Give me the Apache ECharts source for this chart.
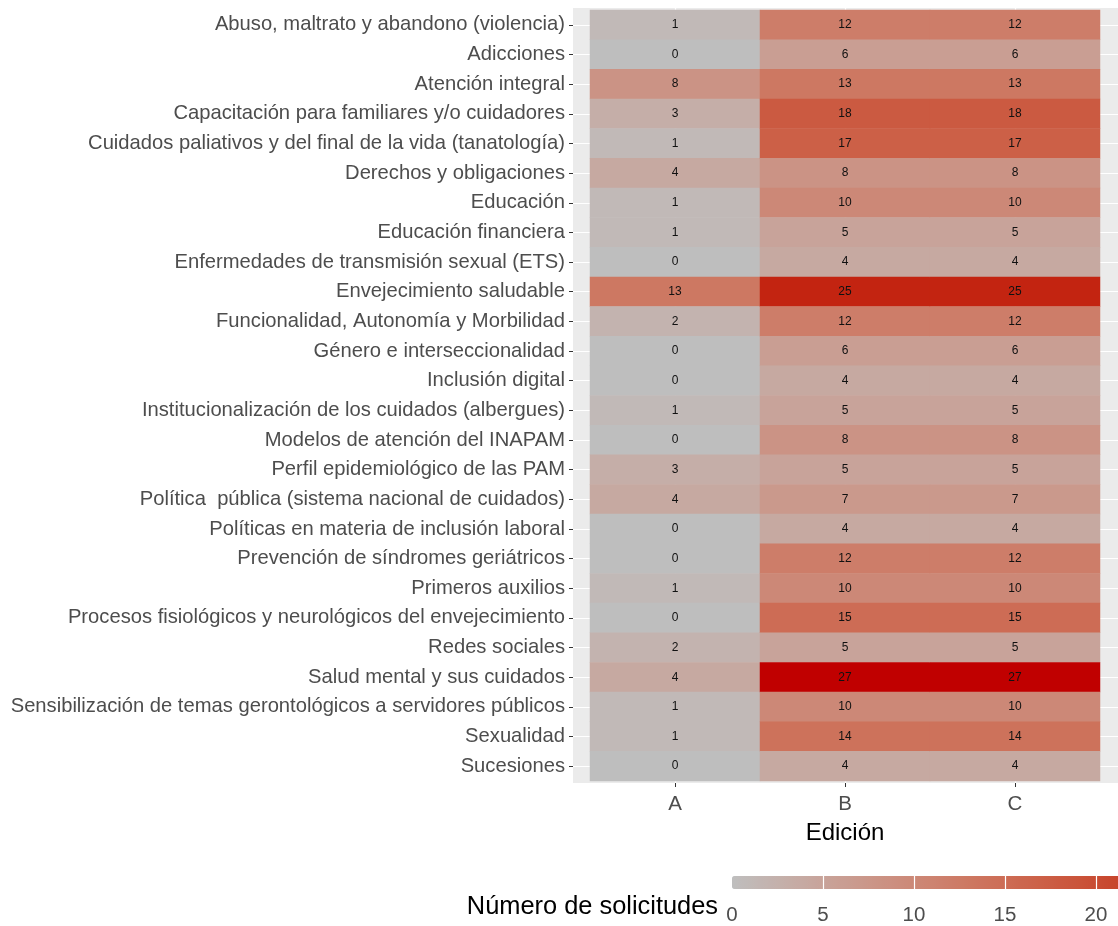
<!DOCTYPE html>
<html>
<head>
<meta charset="utf-8">
<script src="https://cdn.jsdelivr.net/npm/echarts@6/dist/echarts.min.js"></script>
<style>html,body{margin:0;padding:0;background:#fff;}#c{width:1118px;height:926px;}</style>
</head>
<body>
<div id="c"></div>
<script>
const categories = [
  "Abuso, maltrato y abandono (violencia)",
  "Adicciones",
  "Atención integral",
  "Capacitación para familiares y/o cuidadores",
  "Cuidados paliativos y del final de la vida (tanatología)",
  "Derechos y obligaciones",
  "Educación",
  "Educación financiera",
  "Enfermedades de transmisión sexual (ETS)",
  "Envejecimiento saludable",
  "Funcionalidad, Autonomía y Morbilidad",
  "Género e interseccionalidad",
  "Inclusión digital",
  "Institucionalización de los cuidados (albergues)",
  "Modelos de atención del INAPAM",
  "Perfil epidemiológico de las PAM",
  "Política  pública (sistema nacional de cuidados)",
  "Políticas en materia de inclusión laboral",
  "Prevención de síndromes geriátricos",
  "Primeros auxilios",
  "Procesos fisiológicos y neurológicos del envejecimiento",
  "Redes sociales",
  "Salud mental y sus cuidados",
  "Sensibilización de temas gerontológicos a servidores públicos",
  "Sexualidad",
  "Sucesiones"
];
const editions = ["A", "B", "C"];
const valuesA = [1,0,8,3,1,4,1,1,0,13,2,0,0,1,0,3,4,0,0,1,0,2,4,1,1,0];
const valuesB = [12,6,13,18,17,8,10,5,4,25,12,6,4,5,8,5,7,4,12,10,15,5,27,10,14,4];
const valuesC = [12,6,13,18,17,8,10,5,4,25,12,6,4,5,8,5,7,4,12,10,15,5,27,10,14,4];
const legendTicks = [0, 5, 10, 15, 20];
const scaleMax = 27;

// ---- colour scale: Lab interpolation between low and high (like ggplot) ----
function srgbToLin(c){c/=255;return c<=0.04045?c/12.92:Math.pow((c+0.055)/1.055,2.4);}
function linToSrgb(c){c=c<=0.0031308?12.92*c:1.055*Math.pow(c,1/2.4)-0.055;return Math.max(0,Math.min(255,Math.round(c*255)));}
function hexToLab(h){
  const r=srgbToLin(parseInt(h.substr(1,2),16)),g=srgbToLin(parseInt(h.substr(3,2),16)),b=srgbToLin(parseInt(h.substr(5,2),16));
  let X=(0.4124*r+0.3576*g+0.1805*b)/0.95047,Y=(0.2126*r+0.7152*g+0.0722*b),Z=(0.0193*r+0.1192*g+0.9505*b)/1.08883;
  const f=t=>t>0.008856?Math.cbrt(t):7.787*t+16/116;
  const fx=f(X),fy=f(Y),fz=f(Z);
  return [116*fy-16,500*(fx-fy),200*(fy-fz)];
}
function labToHex(L,a,bb){
  const fy=(L+16)/116,fx=fy+a/500,fz=fy-bb/200;
  const fi=t=>{const t3=t*t*t;return t3>0.008856?t3:(t-16/116)/7.787;};
  const X=fi(fx)*0.95047,Y=fi(fy),Z=fi(fz)*1.08883;
  const r=3.2406*X-1.5372*Y-0.4986*Z,g=-0.9689*X+1.8758*Y+0.0415*Z,b=0.0557*X-0.2040*Y+1.0570*Z;
  return '#'+[r,g,b].map(v=>linToSrgb(v).toString(16).padStart(2,'0')).join('');
}
const lowLab=hexToLab('#bebebe'), highLab=hexToLab('#c00000');
const colorStops=[];
for(let i=0;i<=scaleMax;i++){const t=i/scaleMax;colorStops.push(labToHex(lowLab[0]+(highLab[0]-lowLab[0])*t,lowLab[1]+(highLab[1]-lowLab[1])*t,lowLab[2]+(highLab[2]-lowLab[2])*t));}

const heatData=[];
[valuesA,valuesB,valuesC].forEach((arr,ci)=>arr.forEach((v,ri)=>heatData.push([ci,ri,v])));

// panel geometry
const W=1118;
const tileLeft=590, tileTop=10, tileW=510, tileH=771;
const panelLeft=573, panelTop=8, panelW=545, panelH=775;
const colW=tileW/editions.length, rowH=tileH/categories.length;
const xMinBg=-0.5-(tileLeft-panelLeft)/colW, xMaxBg=xMinBg+panelW/colW;
const yMinBg=-0.5-(tileTop-panelTop)/rowH, yMaxBg=yMinBg+panelH/rowH;

const gridMarks=[];
editions.forEach((e,i)=>gridMarks.push({xAxis:i}));
categories.forEach((c,i)=>gridMarks.push({yAxis:i}));

// colour bar: full length runs past the right edge of the page (as in the reference)
const legLeft=732, legTop=876, legH=13, legUnit=18.2;
const legLen=scaleMax*legUnit;
const legVisibleMax=(W-legLeft)/legUnit; // axis extent of the visible part of the bar
const font="'Liberation Sans', Arial, Helvetica, sans-serif";

const chart=echarts.init(document.getElementById('c'),null,{renderer:'canvas'});
chart.setOption({
  animation:false,
  backgroundColor:'#ffffff',
  textStyle:{fontFamily:font},
  title:{text:'Número de solicitudes',right:W-718,top:894,padding:0,textStyle:{fontSize:25.4,fontWeight:'normal',color:'#000',fontFamily:font}},
  grid:[
    {left:panelLeft,top:panelTop,width:panelW,height:panelH,show:true,backgroundColor:'#ebebeb',borderWidth:0,containLabel:false},
    {left:tileLeft,top:tileTop,width:tileW,height:tileH,containLabel:false},
    {left:legLeft,width:W-legLeft,top:legTop,height:legH,containLabel:false}
  ],
  xAxis:[
    {gridIndex:0,type:'value',min:xMinBg,max:xMaxBg,show:false},
    {gridIndex:1,type:'category',data:editions,position:'bottom',offset:2,
     axisLine:{show:false},axisTick:{show:true,alignWithLabel:true,length:4,lineStyle:{color:'#333',width:1}},
     axisLabel:{fontSize:20.5,color:'#4d4d4d',margin:11,fontFamily:font},splitLine:{show:false},
     name:'Edición',nameLocation:'middle',nameGap:38,nameTextStyle:{fontSize:24,color:'#000',fontFamily:font}},
    {gridIndex:2,type:'value',min:0,max:legVisibleMax,interval:5,z:10,
     axisLine:{show:false},axisTick:{show:false},
     axisLabel:{fontSize:20.5,color:'#4d4d4d',margin:16,fontFamily:font,showMaxLabel:false,
       formatter:v=>legendTicks.indexOf(v)>=0?String(v):''},
     splitLine:{show:true,showMinLine:false,showMaxLine:false,lineStyle:{color:'#ffffff',width:1.2}}}
  ],
  yAxis:[
    {gridIndex:0,type:'value',inverse:true,min:yMinBg,max:yMaxBg,show:false},
    {gridIndex:1,type:'category',data:categories,inverse:true,position:'left',offset:tileLeft-panelLeft,
     axisLine:{show:false},axisTick:{show:true,alignWithLabel:true,length:4,lineStyle:{color:'#333',width:1}},
     axisLabel:{fontSize:20.2,color:'#4d4d4d',margin:8,fontFamily:font,interval:0},splitLine:{show:false}},
    {gridIndex:2,type:'value',show:false}
  ],
  visualMap:{
    type:'continuous',min:0,max:scaleMax,seriesIndex:1,dimension:2,
    orient:'horizontal',left:legLeft,top:legTop,itemWidth:legH,itemHeight:legLen,
    padding:0,calculable:false,hoverLink:false,text:null,showLabel:false,
    inRange:{color:colorStops}
  },
  series:[
    {type:'line',xAxisIndex:0,yAxisIndex:0,data:[],silent:true,symbol:'none',z:1,
     markLine:{silent:true,symbol:'none',z:1,label:{show:false},lineStyle:{color:'#ffffff',width:1.2,type:'solid'},data:gridMarks}},
    {type:'heatmap',xAxisIndex:1,yAxisIndex:1,data:heatData,z:5,
     itemStyle:{borderWidth:0},
     label:{show:true,formatter:p=>String(p.value[2]),fontSize:12,color:'#111',fontFamily:font},
     emphasis:{disabled:true}}
  ]
});
</script>
</body>
</html>
